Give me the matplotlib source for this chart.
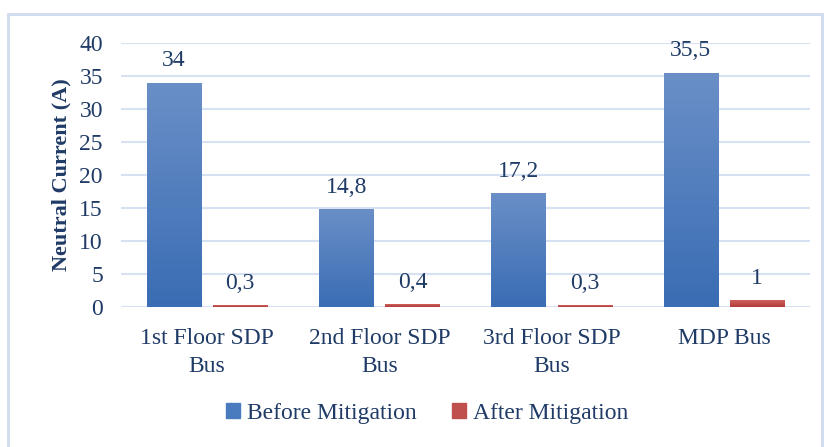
import numpy as np
import matplotlib.pyplot as plt
from matplotlib.colors import LinearSegmentedColormap
from matplotlib.patches import Rectangle

categories = ["1st Floor SDP\nBus", "2nd Floor SDP\nBus", "3rd Floor SDP\nBus", "MDP Bus"]
before = [34, 14.8, 17.2, 35.5]
after = [0.3, 0.4, 0.3, 1]
before_labels = ["34", "14,8", "17,2", "35,5"]
after_labels = ["0,3", "0,4", "0,3", "1"]

txt = "#1F3B66"
fs = 17
plt.rcParams["font.family"] = ["Liberation Serif", "DejaVu Serif"]

fig = plt.figure(figsize=(8.25, 4.47), dpi=100)
ax = fig.add_axes([121 / 825, 1 - 307 / 447, 689 / 825, 264 / 447])

# light frame around the whole chart
fig.patches.append(Rectangle((8 / 825, -0.02), 814 / 825, 1 - 14 / 447 + 0.02,
                             transform=fig.transFigure, fill=False,
                             edgecolor="#CFDBEE", linewidth=2))

blue_cm = LinearSegmentedColormap.from_list("b", ["#3A6DB4", "#6A8FC7"])
red_cm = LinearSegmentedColormap.from_list("r", ["#B23A37", "#D0615E"])

x = np.arange(len(categories))
w = 0.315
gap = 0.035

def gradient_bars(xs, vals, cmap, color):
    bars = ax.bar(xs, vals, width=w, color=color, zorder=2)
    grad = np.linspace(0, 1, 100).reshape(-1, 1)
    for b in bars:
        x0, y0 = b.get_x(), b.get_y()
        im = ax.imshow(grad, cmap=cmap, aspect="auto", origin="lower",
                       extent=[x0, x0 + b.get_width(), y0, y0 + b.get_height()],
                       zorder=3)
        im.set_clip_path(b)
    return bars

b1 = gradient_bars(x - w / 2 - gap, before, blue_cm, "#4A7BBE")
b2 = gradient_bars(x + w / 2 + gap, after, red_cm, "#C0504D")

for xi, v, s in zip(x - w / 2 - gap, before, before_labels):
    ax.text(xi, v + 2.5, s, ha="center", va="baseline", fontsize=fs, color=txt)
for xi, v, s in zip(x + w / 2 + gap, after, after_labels):
    ax.text(xi, v + 2.5, s, ha="center", va="baseline", fontsize=fs, color=txt)

ax.set_xlim(-0.5, 3.5)
ax.set_ylim(0, 40)
ax.set_yticks(range(0, 41, 5))
ax.set_xticks(x)
ax.set_xticklabels(categories, fontsize=fs, color=txt, linespacing=1.45)
ax.tick_params(axis="y", labelsize=fs, colors=txt, length=0, pad=13)
ax.tick_params(axis="x", length=0, pad=15)
ax.grid(axis="y", color="#D6E1F3", linewidth=1.5, zorder=0)
ax.set_axisbelow(True)
for s in ax.spines.values():
    s.set_visible(False)

ax.set_ylabel("Neutral Current (A)", fontsize=16, fontweight="bold", color=txt, labelpad=6)

handles = [Rectangle((0, 0), 1, 1, color="#4A7BBE"), Rectangle((0, 0), 1, 1, color="#C0504D")]
fig.legend(handles, ["Before Mitigation", "After Mitigation"], loc="center",
           bbox_to_anchor=(0.518, 1 - 413 / 447), ncol=2, frameon=False,
           fontsize=fs, labelcolor=txt, handlelength=0.6, handleheight=0.6,
           handletextpad=0.3, columnspacing=1.5)

fig.savefig("out.png", dpi=100)
